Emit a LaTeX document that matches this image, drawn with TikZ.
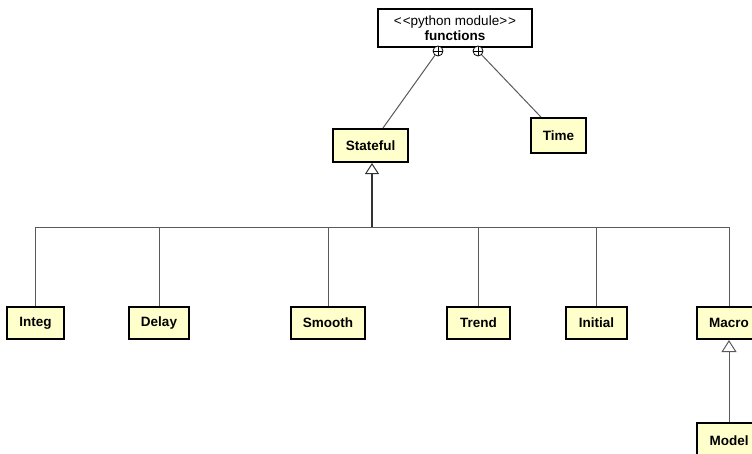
\documentclass[tikz,border=0pt]{standalone}
\usepackage{fontspec}
\setmainfont{Liberation Sans}
\usetikzlibrary{arrows.meta}
\definecolor{classfill}{HTML}{FFFFCC}
\definecolor{wire}{HTML}{5A5A5A}
\begin{document}
\begin{tikzpicture}[x=1pt,y=-1pt,
  every node/.style={font=\fontsize{13.5}{15.5}\selectfont},
  classbox/.style={draw=black,line width=2pt,fill=classfill,inner sep=0pt,
    font=\fontsize{13.5}{15.5}\selectfont\bfseries,minimum height=32pt},
  modbox/.style={draw=black,line width=2pt,fill=white,inner sep=0pt,align=center,
    minimum width=154pt,minimum height=38pt},
  ownmark/.style={circle,draw=black,line width=0.8pt,fill=white,minimum size=10pt,inner sep=0pt,
    path picture={\draw[line width=0.8pt] (path picture bounding box.north) -- (path picture bounding box.south)
      (path picture bounding box.west) -- (path picture bounding box.east);}},
  conn/.style={draw=wire,line width=1pt},
  genstem/.style={draw=black!80,line width=1.6pt,
    -{Triangle[open,length=11pt,width=14pt,line width=1pt]}},
  genthin/.style={draw=wire,line width=1pt,
    -{Triangle[open,length=12pt,width=15pt,line width=1pt]}}
]
\useasboundingbox (0,0) rectangle (752,453);

% module and its two nested classes
\node[modbox] (functions) at (455,28) {{<}\kern1pt{<}python module{>}\kern1pt{>}\\\textbf{functions}};
\node[ownmark] (cl) at (438,51) {};
\node[ownmark] (cr) at (478,51) {};
\node[classbox,minimum width=75pt,minimum height=33pt] (stateful) at (370.5,145.5) {Stateful};
\node[classbox,minimum width=55pt,minimum height=35pt] (time) at (558.5,135.5) {Time};

% subclasses of Stateful
\node[classbox,minimum width=57pt] (integ)   at (35.5,323) {Integ};
\node[classbox,minimum width=60pt] (delay)   at (159,323)  {Delay};
\node[classbox,minimum width=74pt] (smooth)  at (328,323)  {Smooth};
\node[classbox,minimum width=63pt] (trend)   at (478.5,323){Trend};
\node[classbox,minimum width=61pt] (initial) at (596.5,323){Initial};
\node[classbox,minimum width=64pt] (macro)   at (729,323)  {Macro};
\node[classbox,minimum width=64pt,minimum height=36pt] (model) at (729,441) {Model};

% nesting links
\draw[conn] (cl) -- (stateful);
\draw[conn] (cr) -- (time);

% generalisation tree
\coordinate (bus) at (372,227);
\foreach \n in {integ,delay,smooth,trend,initial,macro}
  \draw[conn] (\n.north) |- (bus);
\draw[genstem] (bus) -- (bus |- stateful.south);
\draw[genthin] (model) -- (macro);
\end{tikzpicture}
\end{document}
